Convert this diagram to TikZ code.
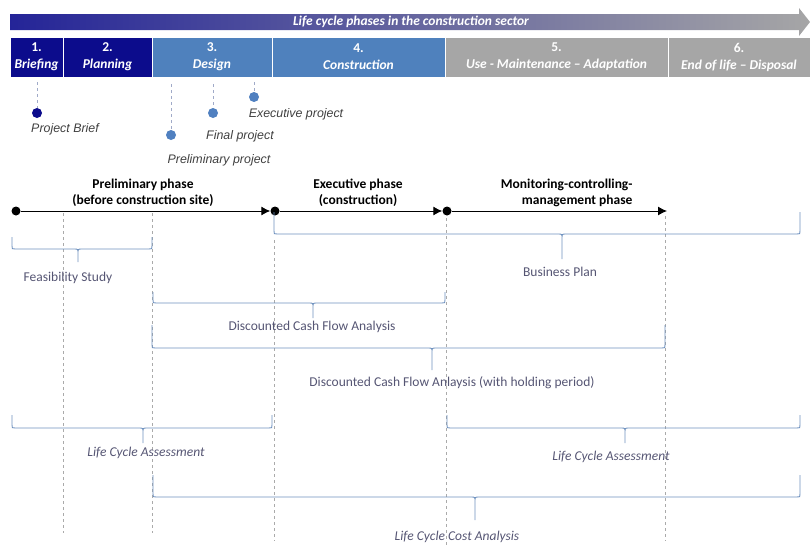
\documentclass[tikz,border=0pt]{standalone}
\usepackage{fontspec}
\setmainfont{Carlito}
\newfontfamily\arialfont{Liberation Sans}
\usepackage{tikz}
\usetikzlibrary{arrows.meta}

\definecolor{navyphase}{RGB}{12,12,140}
\definecolor{bluephase}{RGB}{79,129,189}
\definecolor{greyphase}{RGB}{166,166,166}
\definecolor{arrowmid}{RGB}{105,140,212}
\definecolor{bracecol}{RGB}{110,145,190}
\definecolor{labelcol}{RGB}{85,85,115}
\definecolor{dashcol}{RGB}{170,170,170}
\definecolor{projdashcol}{RGB}{160,170,200}
\definecolor{projdotcol}{RGB}{80,128,192}

% brace: left x, right x, tip x, top y, body y, tip y
\newcommand{\lcbrace}[6]{%
  \draw [bracestyle] (#1,#4) -- (#1,#5-3) .. controls (#1,#5) .. (#1+3,#5)
    -- (#3-4,#5) .. controls (#3,#5) .. (#3,#5+4) -- (#3,#6)
    (#3,#5+4) .. controls (#3,#5) .. (#3+4,#5)
    -- (#2-3,#5) .. controls (#2,#5) .. (#2,#5-3) -- (#2,#4);}

\begin{document}
\begin{tikzpicture}[x=1pt,y=-1pt,>={Latex[length=9pt,width=9pt]},
    phase/.style={rectangle, draw=white, line width=1pt, text=white, minimum height=40pt,
      inner sep=0pt, align=center, font=\bfseries\fontsize{13.5}{17}\selectfont},
    projdot/.style={circle, fill=projdotcol, inner sep=0pt, minimum size=10pt},
    projline/.style={projdashcol, dashed, line width=0.8pt},
    projtext/.style={font=\arialfont\itshape\fontsize{12.4}{14}\selectfont, text=black!75},
    tdot/.style={circle, fill=black, inner sep=0pt, minimum size=9pt},
    phasetext/.style={font=\bfseries\fontsize{13.5}{16}\selectfont, align=center},
    sepline/.style={dashcol, dashed, line width=0.8pt},
    bracestyle/.style={bracecol, line width=0.9pt},
    studytext/.style={text=labelcol, font=\fontsize{13.5}{15}\selectfont}]
  \useasboundingbox (0,0) rectangle (810,546);

  % life cycle arrow
  \shade [left color=navyphase!90!white, middle color=arrowmid, right color=greyphase]
    (10,14) -- (799,14) -- (799,8) -- (810,22) -- (799,36) -- (799,30) -- (10,30) -- cycle;
  \node [text=white, font=\bfseries\itshape\fontsize{13.5}{15}\selectfont] (lctitle) at (411,22)
    {Life cycle phases in the construction sector};

  % phases
  \node [phase, fill=navyphase, minimum width=53pt] (p1) at (36.5,57) {1.\\\textit{Briefing}};
  \node [phase, fill=navyphase, minimum width=89pt] (p2) at (107.5,57) {2.\\\textit{Planning}};
  \node [phase, fill=bluephase, minimum width=120pt] (p3) at (212,57) {3.\\\textit{Design}};
  \node [phase, fill=bluephase, minimum width=173pt] (p4) at (358.5,57) {4.\\\textit{Construction}};
  \node [phase, fill=greyphase, minimum width=223pt] (p5) at (556.5,57) {5.\\\textit{Use - Maintenance -- Adaptation}};
  \node [phase, fill=greyphase, minimum width=142pt] (p6) at (739,57) {6.\\\textit{End of life -- Disposal}};

  % project milestones
  \coordinate (brieftop) at (37,82);
  \coordinate (prelimtop) at (171,84);
  \coordinate (finaltop) at (213,84);
  \coordinate (exectop) at (254,82);
  \node [projdot, fill=navyphase] (brief) at (37,113) {};
  \node [projdot] (prelimproj) at (171,135) {};
  \node [projdot] (finalproj) at (213,113) {};
  \node [projdot] (execproj) at (254,97) {};
  \draw [projline] (brieftop) -- (brief);
  \draw [projline] (prelimtop) -- (prelimproj);
  \draw [projline] (finaltop) -- (finalproj);
  \draw [projline] (exectop) -- (execproj);
  \node [projtext] (brieftext) at (65,129) {Project Brief};
  \node [projtext] (prelimtext) at (219,160) {Preliminary project};
  \node [projtext] (finaltext) at (240,136) {Final project};
  \node [projtext] (exectext) at (296,114) {Executive project};

  % phase separators
  \draw [sepline] (63,213) -- (63,533);
  \draw [sepline] (152,213) -- (152,533);
  \draw [sepline] (274,240) -- (274,541);
  \draw [sepline] (446,218) -- (446,546);
  \draw [sepline] (665,216) -- (665,541);

  % timeline
  \node [tdot] (t0) at (16,211) {};
  \node [tdot] (t1) at (275,211) {};
  \node [tdot] (t2) at (447,211) {};
  \coordinate (t3) at (667,211);
  \draw [->, line width=1pt] (t0) -- (t1);
  \draw [->, line width=1pt] (t1) -- (t2);
  \draw [->, line width=1pt] (t2) -- (t3);
  \node [phasetext] (prelimphase) at (143,193) {Preliminary phase\\(before construction site)};
  \node [phasetext] (execphase) at (358,193) {Executive phase\\(construction)};
  \node [phasetext, align=right, anchor=east] (monphase) at (636,193) {Monitoring-controlling-\\management phase};

  % analyses
  \lcbrace{12}{152}{78}{237}{249}{262}
  \node [studytext] (feas) at (68,278) {Feasibility Study};
  \lcbrace{274}{800}{562}{212}{234}{259}
  \node [studytext] (bplan) at (560,272) {Business Plan};
  \lcbrace{153}{445}{313}{292}{303}{318}
  \node [studytext] (dcf) at (312,327) {Discounted Cash Flow Analysis};
  \lcbrace{152}{665}{432}{325}{348}{370}
  \node [studytext] (dcfhold) at (452,383) {Discounted Cash Flow Anlaysis (with holding period)};
  \lcbrace{12}{272}{143}{415}{428}{443}
  \node [studytext, font=\itshape\fontsize{13.5}{15}\selectfont] (lca1) at (146,453) {Life Cycle Assessment};
  \lcbrace{447}{800}{625}{415}{428}{443}
  \node [studytext, font=\itshape\fontsize{13.5}{15}\selectfont] (lca2) at (611,457) {Life Cycle Assessment};
  \lcbrace{153}{800}{475}{475}{497}{520}
  \node [studytext, font=\itshape\fontsize{13.5}{15}\selectfont] (lcca) at (457,537) {Life Cycle Cost Analysis};
\end{tikzpicture}
\end{document}
